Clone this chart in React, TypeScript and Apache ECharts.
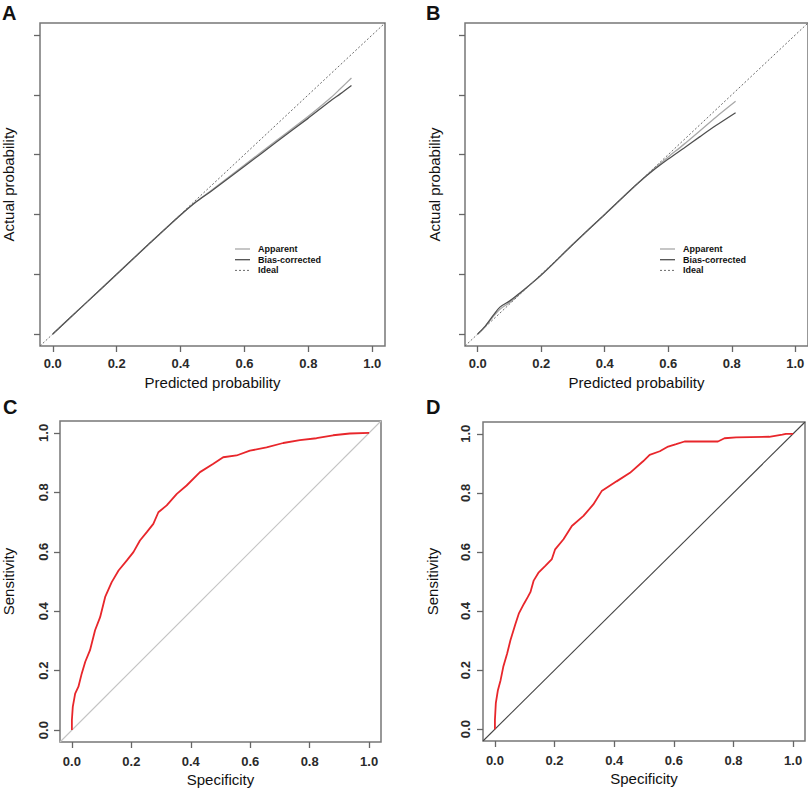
import React, { useEffect, useRef } from "react";
import * as echarts from "echarts";

// Axis extent (R style 4% extension around 0..1) and tick labels
const AXIS_MIN = -0.04;
const AXIS_MAX = 1.04;
const TICKS = [0, 0.2, 0.4, 0.6, 0.8, 1.0];

// Panel A – calibration curve (training)
const A_X = [0, 0.1, 0.2, 0.3, 0.4, 0.45, 0.5, 0.6, 0.7, 0.8, 0.87, 0.9, 0.935];
const A_APPARENT = [0, 0.1, 0.2, 0.3, 0.398, 0.443, 0.483, 0.565, 0.647, 0.728, 0.79, 0.82, 0.856];
const A_BIAS = [0, 0.1, 0.2, 0.3, 0.398, 0.443, 0.481, 0.561, 0.642, 0.722, 0.78, 0.803, 0.831];

// Panel B – calibration curve (validation)
const B_X = [0, 0.02, 0.05, 0.07, 0.1, 0.13, 0.2, 0.3, 0.4, 0.5, 0.55, 0.6, 0.65, 0.7, 0.75, 0.812];
const B_APPARENT = [0, 0.02, 0.06, 0.083, 0.105, 0.132, 0.198, 0.3, 0.4, 0.5, 0.548, 0.592, 0.635, 0.68, 0.725, 0.778];
const B_BIAS = [0, 0.022, 0.064, 0.09, 0.11, 0.135, 0.197, 0.3, 0.4, 0.5, 0.545, 0.585, 0.622, 0.66, 0.697, 0.74];

// Panel C – ROC (training)
const C_FPR = [0, 0, 0.003, 0.011, 0.022, 0.033, 0.045, 0.061, 0.078, 0.095, 0.112, 0.134, 0.157, 0.185, 0.207, 0.229, 0.252, 0.274, 0.291, 0.319, 0.353, 0.386, 0.431, 0.476, 0.509, 0.554, 0.599, 0.655, 0.711, 0.767, 0.823, 0.879, 0.935, 1];
const C_TPR = [0, 0.034, 0.078, 0.123, 0.146, 0.19, 0.23, 0.269, 0.336, 0.38, 0.448, 0.498, 0.537, 0.571, 0.599, 0.638, 0.666, 0.694, 0.733, 0.756, 0.795, 0.823, 0.868, 0.896, 0.918, 0.924, 0.94, 0.951, 0.966, 0.976, 0.982, 0.992, 0.998, 1];

// Panel D – ROC (validation)
const D_FPR = [0, 0, 0.003, 0.01, 0.019, 0.028, 0.041, 0.052, 0.069, 0.08, 0.097, 0.11, 0.119, 0.13, 0.147, 0.169, 0.191, 0.202, 0.23, 0.258, 0.297, 0.33, 0.358, 0.408, 0.453, 0.497, 0.519, 0.553, 0.581, 0.608, 0.636, 0.697, 0.748, 0.77, 0.809, 0.92, 0.964, 0.976, 1];
const D_TPR = [0, 0.031, 0.088, 0.132, 0.166, 0.211, 0.256, 0.301, 0.357, 0.391, 0.424, 0.447, 0.464, 0.503, 0.531, 0.553, 0.576, 0.609, 0.643, 0.688, 0.722, 0.761, 0.806, 0.839, 0.868, 0.907, 0.929, 0.941, 0.957, 0.965, 0.974, 0.974, 0.974, 0.985, 0.988, 0.99, 0.997, 1, 1];

const LEGEND_NAMES = ["Apparent", "Bias-corrected", "Ideal"];

const zip = (xs: number[], ys: number[]) => xs.map((x, i) => [x, ys[i]]);
const FONT = "'Liberation Sans', Arial, Helvetica, sans-serif";
const TEXT = "#111";

const APP_COLOR = "#a8a8a8";
const BIAS_COLOR = "#505050";
const IDEAL_COLOR = "#6a6a6a";

function xAxis(gridIndex: number, name: string, nameGap: number, labelMargin: number) {
  return {
    type: "value",
    gridIndex,
    min: AXIS_MIN,
    max: AXIS_MAX,
    name,
    nameLocation: "middle",
    nameGap,
    nameTextStyle: { fontSize: 15, color: TEXT, fontFamily: FONT },
    axisLine: { show: false, onZero: false },
    axisTick: { show: true, length: 6, customValues: TICKS, lineStyle: { color: "#666", width: 1.3 } },
    axisLabel: {
      show: true,
      customValues: TICKS,
      margin: labelMargin,
      fontSize: 13,
      fontWeight: "bold",
      color: "#2a2a2a",
      fontFamily: FONT,
      formatter: (v: number) => v.toFixed(1),
    },
    splitLine: { show: false },
  };
}

function yAxis(gridIndex: number, name: string, nameGap: number, showLabels: boolean, labelMargin: number) {
  return {
    type: "value",
    gridIndex,
    min: AXIS_MIN,
    max: AXIS_MAX,
    name,
    nameLocation: "middle",
    nameGap,
    nameTextStyle: { fontSize: 15, color: TEXT, fontFamily: FONT },
    axisLine: { show: false, onZero: false },
    axisTick: { show: true, length: 6, customValues: TICKS, lineStyle: { color: "#666", width: 1.3 } },
    axisLabel: {
      show: showLabels,
      customValues: TICKS,
      rotate: 90,
      margin: labelMargin,
      fontSize: 13,
      fontWeight: "bold",
      color: "#2a2a2a",
      fontFamily: FONT,
      formatter: (v: number) => v.toFixed(1),
    },
    splitLine: { show: false },
  };
}

function calibrationSeries(idx: number, xs: number[], app: number[], bias: number[]) {
  return [
    {
      name: "Apparent",
      type: "line",
      xAxisIndex: idx,
      yAxisIndex: idx,
      data: zip(xs, app),
      smooth: 0.3,
      symbol: "none",
      lineStyle: { color: APP_COLOR, width: 1.3 },
    },
    {
      name: "Bias-corrected",
      type: "line",
      xAxisIndex: idx,
      yAxisIndex: idx,
      data: zip(xs, bias),
      smooth: 0.3,
      symbol: "none",
      lineStyle: { color: BIAS_COLOR, width: 1.3 },
    },
    {
      name: "Ideal",
      type: "line",
      xAxisIndex: idx,
      yAxisIndex: idx,
      data: [[AXIS_MIN, AXIS_MIN], [AXIS_MAX, AXIS_MAX]],
      symbol: "none",
      lineStyle: { color: IDEAL_COLOR, width: 1, type: [2, 2] },
    },
  ];
}

function rocSeries(idx: number, fpr: number[], tpr: number[], diagColor: string) {
  return [
    {
      name: "Reference",
      type: "line",
      xAxisIndex: idx,
      yAxisIndex: idx,
      data: [[AXIS_MIN, AXIS_MIN], [AXIS_MAX, AXIS_MAX]],
      symbol: "none",
      lineStyle: { color: diagColor, width: 1.1 },
    },
    {
      name: "ROC",
      type: "line",
      xAxisIndex: idx,
      yAxisIndex: idx,
      data: zip(fpr, tpr),
      symbol: "none",
      lineStyle: { color: "#e8262b", width: 1.8 },
    },
  ];
}

// Legend drawn as small line keys with text, R style
function legendGraphic(lineLeft: number, top: number) {
  const styles = [
    { stroke: APP_COLOR, lineWidth: 1.3 },
    { stroke: BIAS_COLOR, lineWidth: 1.3 },
    { stroke: IDEAL_COLOR, lineWidth: 1, lineDash: [2, 2] },
  ];
  const elems: any[] = [];
  LEGEND_NAMES.forEach((name, i) => {
    const y = top + i * 10.7;
    elems.push({
      type: "line",
      shape: { x1: lineLeft, y1: y, x2: lineLeft + 15, y2: y },
      style: styles[i],
    });
    elems.push({
      type: "text",
      x: lineLeft + 23,
      y,
      style: {
        text: name,
        fontSize: 9,
        fontWeight: "bold",
        fontFamily: FONT,
        fill: TEXT,
        verticalAlign: "middle",
        textAlign: "left",
      },
    });
  });
  return elems;
}

const panelTitle = (text: string, left: number, top: number) => ({
  text,
  left,
  top,
  padding: 0,
  textStyle: { fontSize: 20, fontWeight: "bold", color: "#111", fontFamily: FONT },
});

export default function App() {
  const ref = useRef<HTMLDivElement>(null);
  useEffect(() => {
    if (!ref.current) return;
    const chart = echarts.init(ref.current, undefined, { renderer: "svg" });
    const boxStyle = { show: true, borderColor: "#777", borderWidth: 1.5, backgroundColor: "transparent" };
    chart.setOption({
      animation: false,
      backgroundColor: "#fff",
      title: [
        panelTitle("A", 2, 3),
        panelTitle("B", 426, 3),
        panelTitle("C", 3, 397),
        panelTitle("D", 426, 397),
      ],
      graphic: [...legendGraphic(235, 249), ...legendGraphic(660, 249)],
      grid: [
        { left: 40, top: 23, width: 345, height: 323, ...boxStyle },
        { left: 465, top: 23, width: 345, height: 323, ...boxStyle },
        { left: 60, top: 421, width: 321, height: 321, ...boxStyle },
        { left: 483, top: 422, width: 322, height: 319, ...boxStyle },
      ],
      xAxis: [
        xAxis(0, "Predicted probability", 29, 11),
        xAxis(1, "Predicted probability", 29, 11),
        xAxis(2, "Specificity", 30, 13),
        xAxis(3, "Specificity", 30, 13),
      ],
      yAxis: [
        yAxis(0, "Actual probability", 24, false, 10),
        yAxis(1, "Actual probability", 23, false, 10),
        yAxis(2, "Sensitivity", 44, true, 10),
        yAxis(3, "Sensitivity", 43, true, 11),
      ],
      series: [
        ...calibrationSeries(0, A_X, A_APPARENT, A_BIAS),
        ...calibrationSeries(1, B_X, B_APPARENT, B_BIAS),
        ...rocSeries(2, C_FPR, C_TPR, "#c4c4c4"),
        ...rocSeries(3, D_FPR, D_TPR, "#444444"),
      ],
    });
    return () => chart.dispose();
  }, []);
  return (
    <div
      ref={ref}
      style={{ position: "absolute", left: 0, top: 0, width: 808, height: 792, background: "#fff" }}
    />
  );
}
